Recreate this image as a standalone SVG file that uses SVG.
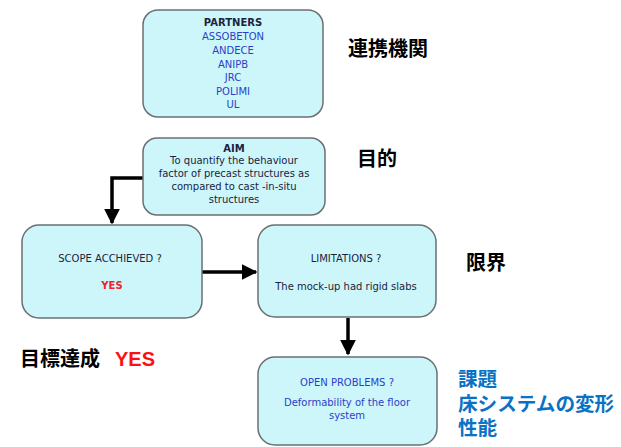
<svg xmlns="http://www.w3.org/2000/svg" width="621" height="447" viewBox="0 0 621 447">
<style>
.box{fill:#cdf6fb;stroke:#6a7070;stroke-width:1.5}
.t{font-family:"DejaVu Sans","Liberation Sans",sans-serif;font-size:10px;text-anchor:middle}
.dk{fill:#1c2340}
.bl{fill:#2a3fc8}
.rd{fill:#e8262a;font-weight:bold}
.jp{font-family:"Liberation Sans","Noto Sans CJK JP",sans-serif;font-size:20px;font-weight:bold;fill:#000}
.jpb{font-family:"Liberation Sans","Noto Sans CJK JP",sans-serif;font-size:19.6px;font-weight:bold;fill:#0a72c4}
.ln{fill:none;stroke:#000;stroke-width:3.5}
</style>
<defs>
<marker id="ah" viewBox="0 0 10 10" refX="9" refY="5" markerWidth="4.6" markerHeight="4.6" orient="auto" markerUnits="strokeWidth">
<path d="M0,0 L10,5 L0,10 Z" fill="#000"/>
</marker>
</defs>
<g id="connectors">
<path class="ln" d="M143,178 H112 V223" marker-end="url(#ah)"/>
<path class="ln" d="M202,272 H256" marker-end="url(#ah)"/>
<path class="ln" d="M348,318 V354" marker-end="url(#ah)"/>
</g>
<g id="partners">
<rect class="box" x="143" y="10" width="180" height="107" rx="15"/>
<text class="t dk" x="233" y="26" style="font-weight:bold">PARTNERS</text>
<text class="t bl" x="233" y="40">ASSOBETON</text>
<text class="t bl" x="233" y="54">ANDECE</text>
<text class="t bl" x="233" y="68">ANIPB</text>
<text class="t bl" x="233" y="81">JRC</text>
<text class="t bl" x="233" y="95">POLIMI</text>
<text class="t bl" x="233" y="108">UL</text>
</g>
<g id="aim">
<rect class="box" x="143" y="138" width="182" height="77" rx="14"/>
<text class="t dk" x="234" y="152" style="font-weight:bold">AIM</text>
<text class="t dk" x="234" y="164">To quantify the behaviour</text>
<text class="t dk" x="234" y="177">factor of precast structures as</text>
<text class="t dk" x="234" y="190">compared to cast -in-situ</text>
<text class="t dk" x="234" y="203">structures</text>
</g>
<g id="scope">
<rect class="box" x="22" y="225" width="180" height="93" rx="17"/>
<text class="t dk" x="110" y="262">SCOPE ACCHIEVED ?</text>
<text class="t rd" x="112" y="289">YES</text>
</g>
<g id="limitations">
<rect class="box" x="258" y="225" width="178" height="92" rx="17"/>
<text class="t dk" x="346" y="262">LIMITATIONS ?</text>
<text class="t dk" x="346" y="290">The mock-up had rigid slabs</text>
</g>
<g id="open">
<rect class="box" x="258" y="357" width="179" height="88" rx="17"/>
<text class="t bl" x="347" y="386">OPEN PROBLEMS ?</text>
<text class="t bl" x="347" y="406">Deformability of the floor</text>
<text class="t bl" x="347" y="419">system</text>
</g>
<g id="labels">
<text class="jp" x="348" y="56">連携機関</text>
<text class="jp" x="357" y="166">目的</text>
<text class="jp" x="466" y="270">限界</text>
<text class="jp" x="20" y="366">目標達成<tspan x="115" fill="#ff1010">YES</tspan></text>
<text class="jpb" x="458" y="386">課題</text>
<text class="jpb" x="458" y="411">床システムの変形</text>
<text class="jpb" x="458" y="435">性能</text>
</g>
</svg>
